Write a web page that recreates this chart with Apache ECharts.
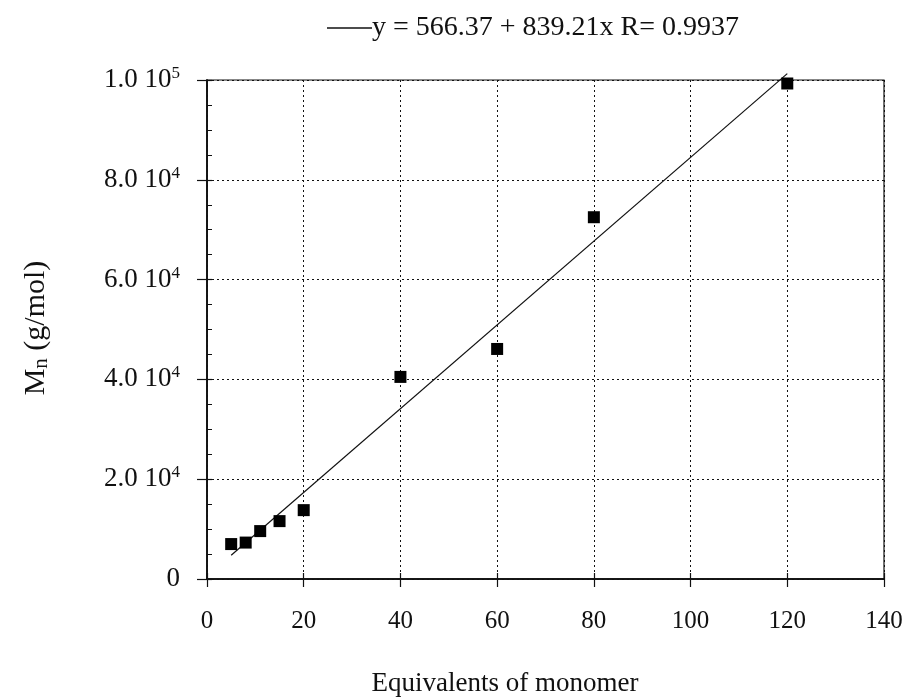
<!DOCTYPE html>
<html>
<head>
<meta charset="utf-8">
<script src="https://cdn.jsdelivr.net/npm/echarts@6/dist/echarts.min.js"></script>
<style>
  html, body { margin: 0; padding: 0; background: #fff; }
  #chart { width: 908px; height: 700px; }
</style>
</head>
<body>
<div id="chart"></div>
<script>
// Number-average molar mass versus equivalents of monomer
const equivalents = [5, 8, 11, 15, 20, 40, 60, 80, 120];
const molarMass = [7000, 7300, 9600, 11600, 13800, 40500, 46100, 72500, 99300];

// Linear fit reported in the legend
const fitIntercept = 566.37;
const fitSlope = 839.21;
const fitR = 0.9937;
const fitRange = [5, 120];

const xTicks = [0, 20, 40, 60, 80, 100, 120, 140];
const yTickValues = [0, 20000, 40000, 60000, 80000, 100000];
const yTickLabels = ['0', '2.0 10{sup|4}', '4.0 10{sup|4}', '6.0 10{sup|4}', '8.0 10{sup|4}', '1.0 10{sup|5}'];

const FONT = '"Liberation Serif", "Times New Roman", serif';
const INK = '#111';

const points = equivalents.map((x, i) => [x, molarMass[i]]);
const fitLine = fitRange.map(x => [x, fitIntercept + fitSlope * x]);
const fitLabel = 'y = ' + fitIntercept.toFixed(2) + ' + ' + fitSlope.toFixed(2) + 'x R= ' + fitR.toFixed(4);

const chart = echarts.init(document.getElementById('chart'), null, { renderer: 'canvas' });

const xAxisBase = {
  type: 'value',
  min: 0, max: 140, interval: 20,
  axisLine: { show: true, onZero: false, lineStyle: { color: INK, width: 1.5 } }
};
const yAxisBase = {
  type: 'value',
  min: 0, max: 100000, interval: 20000,
  position: 'left',
  axisLine: { show: true, onZero: false, lineStyle: { color: INK, width: 1.5 } }
};

chart.setOption({
  animation: false,
  backgroundColor: '#fff',
  grid: {
    left: 207, right: 24, top: 80, bottom: 121,
    show: true, borderColor: INK, borderWidth: 1.2, backgroundColor: 'transparent'
  },
  legend: {
    data: [fitLabel],
    left: 322, top: 9,
    icon: 'rect',
    itemWidth: 45, itemHeight: 1.3,
    itemStyle: { color: INK },
    textStyle: { fontFamily: FONT, fontSize: 28, color: INK, padding: [0, 0, 0, -5] },
    selectedMode: false
  },
  xAxis: [
    Object.assign({}, xAxisBase, {
      position: 'bottom',
      axisTick: { show: true, inside: false, length: 8, lineStyle: { color: INK, width: 1.2 } },
      axisLabel: {
        margin: 30, fontFamily: FONT, fontSize: 25, color: INK,
        formatter: v => (xTicks.indexOf(v) >= 0 ? String(v) : '')
      },
      splitLine: { show: true, lineStyle: { color: INK, type: [2, 3], width: 1 } }
    }),
    Object.assign({}, xAxisBase, {
      position: 'bottom',
      axisTick: { show: true, inside: true, length: 6, lineStyle: { color: INK, width: 1.2 } },
      axisLabel: { show: false },
      splitLine: { show: false }
    })
  ],
  yAxis: [
    Object.assign({}, yAxisBase, {
      axisTick: { show: true, inside: false, length: 10, lineStyle: { color: INK, width: 1.2 } },
      axisLabel: {
        margin: 27, fontFamily: FONT, fontSize: 27, color: INK,
        formatter: v => {
          const i = yTickValues.indexOf(v);
          return i >= 0 ? yTickLabels[i] : '';
        },
        rich: {
          sup: { fontFamily: FONT, fontSize: 17, color: INK, verticalAlign: 'bottom', padding: [0, 0, 13, 0] }
        }
      },
      splitLine: { show: true, lineStyle: { color: INK, type: [2, 3], width: 1 } }
    }),
    Object.assign({}, yAxisBase, {
      axisTick: { show: true, inside: true, length: 5, lineStyle: { color: INK, width: 1.2 } },
      minorTick: { show: true, splitNumber: 4, length: 5, lineStyle: { color: INK, width: 1 } },
      axisLabel: { show: false },
      splitLine: { show: false }
    })
  ],
  series: [
    {
      name: 'data',
      type: 'scatter',
      data: points,
      symbol: 'rect',
      symbolSize: 12,
      itemStyle: { color: '#000', opacity: 1 },
      z: 5
    },
    {
      name: fitLabel,
      type: 'line',
      data: fitLine,
      symbol: 'none',
      clip: false,
      lineStyle: { color: INK, width: 1.2 },
      z: 4
    }
  ],
  graphic: [
    {
      type: 'text',
      x: 505, y: 684,
      style: {
        text: 'Equivalents of monomer',
        fontFamily: FONT, fontSize: 27, fill: INK,
        align: 'center', verticalAlign: 'middle'
      }
    },
    {
      type: 'text',
      x: 36, y: 328,
      rotation: Math.PI / 2,
      style: {
        text: 'M{sub|n} (g/mol)',
        fontFamily: FONT, fontSize: 30, fill: INK,
        align: 'center', verticalAlign: 'middle',
        rich: {
          sub: { fontFamily: FONT, fontSize: 21, fill: INK, verticalAlign: 'top', padding: [11, 0, 0, 0] }
        }
      }
    }
  ]
});
</script>
</body>
</html>
